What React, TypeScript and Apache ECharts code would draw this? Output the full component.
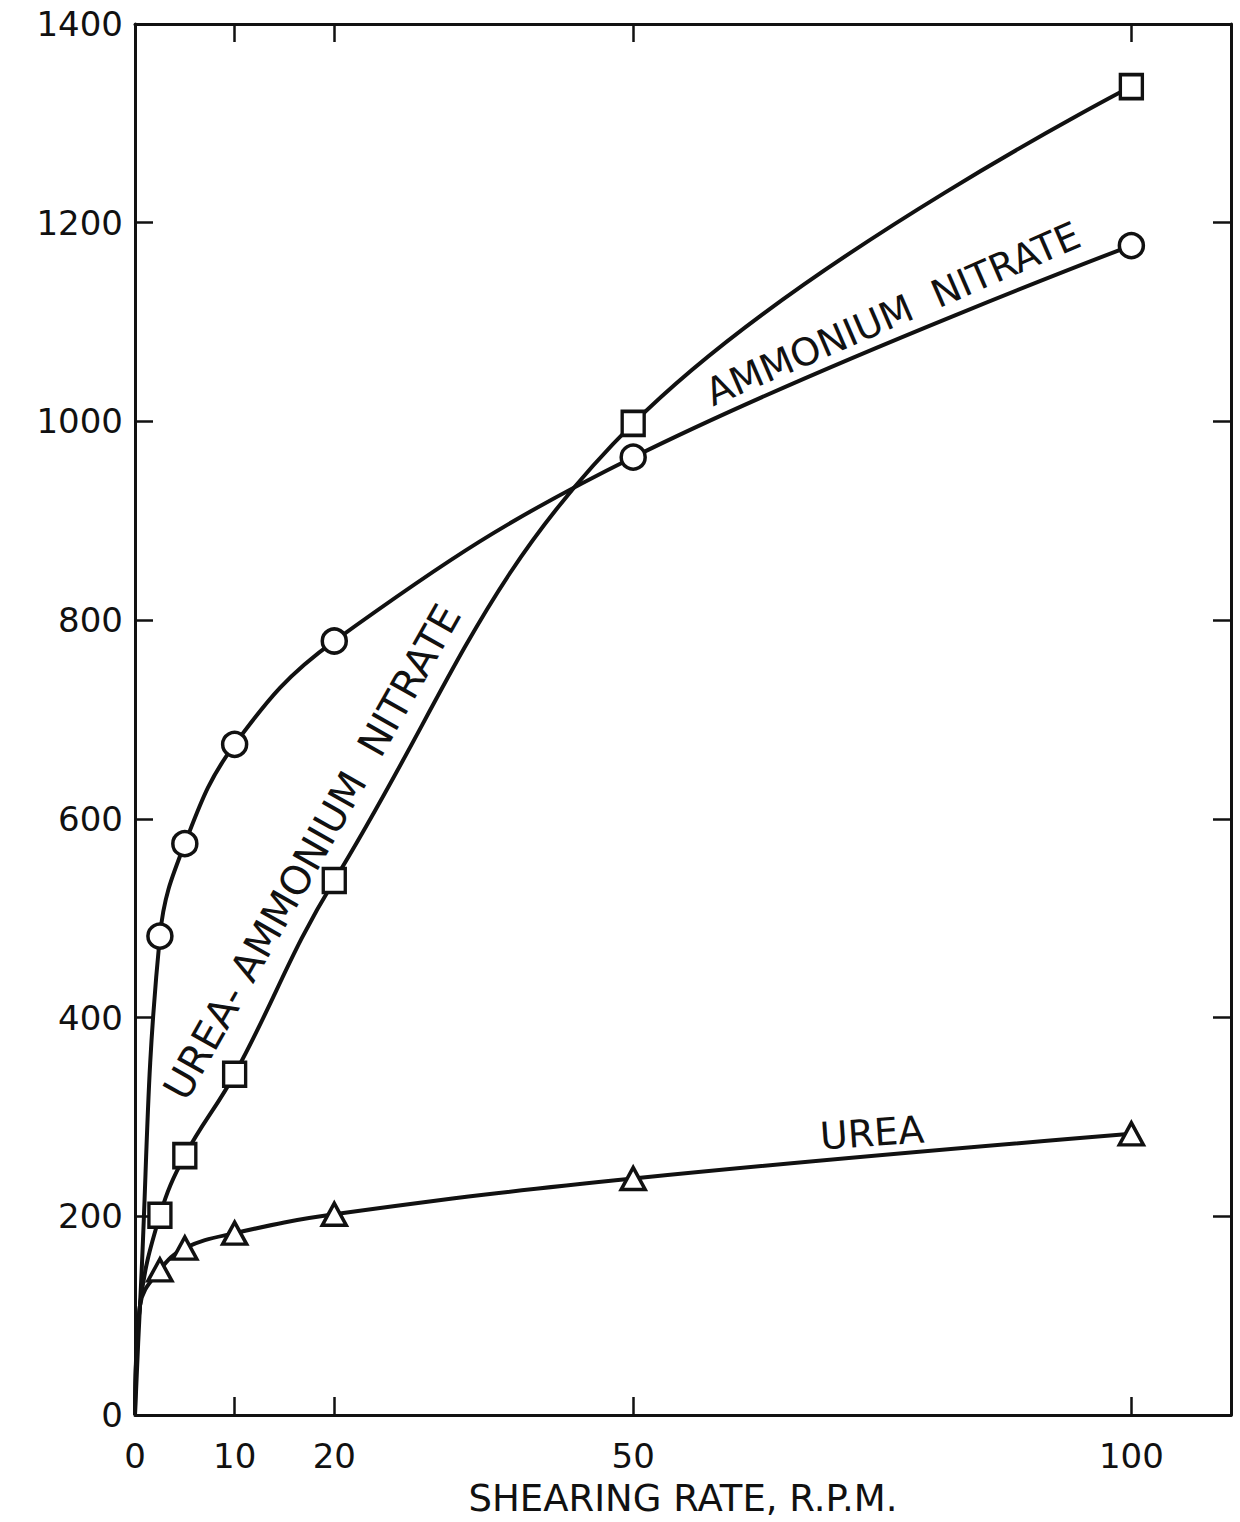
import React, { useEffect, useRef } from "react";
import * as echarts from "echarts";

// Shearing rate, R.P.M.
const shearRates = [2.5, 5, 10, 20, 50, 100];
// curve start near origin
const startX = [0, 0.5];
const startY = [0, 110];
const ammoniumNitrate = [482, 575, 675, 779, 964, 1177];
const ureaAmmoniumNitrate = [201, 261, 343, 538, 998, 1337];
const urea = [146, 168, 183, 202, 238, 283];
const xTickValues = [0, 10, 20, 50, 100];
const xTickLabels = ["0", "10", "20", "50", "100"];

const FONT = "DejaVu Sans";

function buildData(ys: number[]) {
  const head = startX.map((x, i) => ({ value: [x, startY[i]], symbol: "none" }));
  const body = shearRates.map((x, i) => [x, ys[i]]);
  return [...head, ...body];
}

export default function App() {
  const ref = useRef<HTMLDivElement>(null);
  useEffect(() => {
    document.body.style.margin = "0";
    if (!ref.current) return;
    const chart = echarts.init(ref.current, null, { renderer: "svg" });
    const lineStyle = { color: "#111", width: 4 };
    const itemStyle = { color: "#fff", borderColor: "#111", borderWidth: 3.5 };
    const axisLine = { show: true, onZero: false, lineStyle: { color: "#111", width: 3 } };
    const tickStyle = { color: "#111", width: 2.5 };
    chart.setOption({
      animation: false,
      backgroundColor: "#fff",
      grid: { left: 135, top: 24, right: 9, bottom: 107, containLabel: false, outerBoundsMode: "none" },
      xAxis: [
        {
          type: "value",
          min: 0,
          max: 110,
          position: "bottom",
          axisLine,
          axisTick: { show: true, inside: true, length: 18, lineStyle: tickStyle, customValues: xTickValues.slice(1) },
          axisLabel: {
            show: true,
            customValues: xTickValues,
            formatter: (v: number) => xTickLabels[xTickValues.indexOf(v)] ?? "",
            color: "#111",
            fontFamily: FONT,
            fontSize: 34,
            margin: 24,
          },
          splitLine: { show: false },
          name: "SHEARING RATE, R.P.M.",
          nameLocation: "middle",
          nameGap: 65,
          nameTextStyle: { color: "#111", fontFamily: FONT, fontSize: 37 },
        },
        {
          type: "value",
          min: 0,
          max: 110,
          position: "top",
          axisLine,
          axisTick: { show: true, inside: true, length: 18, lineStyle: tickStyle, customValues: xTickValues.slice(1) },
          axisLabel: { show: false },
          splitLine: { show: false },
        },
      ],
      yAxis: [
        {
          type: "value",
          min: 0,
          max: 1400,
          interval: 200,
          position: "left",
          axisLine,
          axisTick: { show: true, inside: true, length: 18, lineStyle: tickStyle },
          axisLabel: {
            color: "#111",
            fontFamily: FONT,
            fontSize: 34,
            margin: 12,
            formatter: (v: number) => String(v),
          },
          splitLine: { show: false },
        },
        {
          type: "value",
          min: 0,
          max: 1400,
          interval: 200,
          position: "right",
          axisLine,
          axisTick: { show: true, inside: true, length: 18, lineStyle: tickStyle },
          axisLabel: { show: false },
          splitLine: { show: false },
        },
      ],
      series: [
        {
          name: "AMMONIUM NITRATE",
          type: "line",
          smooth: 0.4,
          symbol: "circle",
          symbolSize: 24,
          lineStyle,
          itemStyle,
          z: 3,
          data: buildData(ammoniumNitrate),
        },
        {
          name: "UREA-AMMONIUM NITRATE",
          type: "line",
          smooth: 0.4,
          symbol: "rect",
          symbolSize: [22, 24],
          lineStyle,
          itemStyle,
          z: 3,
          data: buildData(ureaAmmoniumNitrate),
        },
        {
          name: "UREA",
          type: "line",
          smooth: 0.4,
          symbol: "triangle",
          symbolSize: [24, 22],
          lineStyle,
          itemStyle,
          z: 3,
          data: buildData(urea),
        },
      ],
      graphic: [
        {
          type: "text",
          x: 893,
          y: 314,
          rotation: (23.5 * Math.PI) / 180,
          style: { text: "AMMONIUM  NITRATE", fill: "#111", font: `38px '${FONT}'`, align: "center", verticalAlign: "middle" },
        },
        {
          type: "text",
          x: 312,
          y: 852,
          rotation: (60.5 * Math.PI) / 180,
          style: { text: "UREA- AMMONIUM  NITRATE", fill: "#111", font: `40px '${FONT}'`, align: "center", verticalAlign: "middle" },
        },
        {
          type: "text",
          x: 872,
          y: 1133,
          rotation: (4 * Math.PI) / 180,
          style: { text: "UREA", fill: "#111", font: `38px '${FONT}'`, align: "center", verticalAlign: "middle" },
        },
      ],
    });
    return () => chart.dispose();
  }, []);
  return <div ref={ref} style={{ width: 1240, height: 1522 }} />;
}
